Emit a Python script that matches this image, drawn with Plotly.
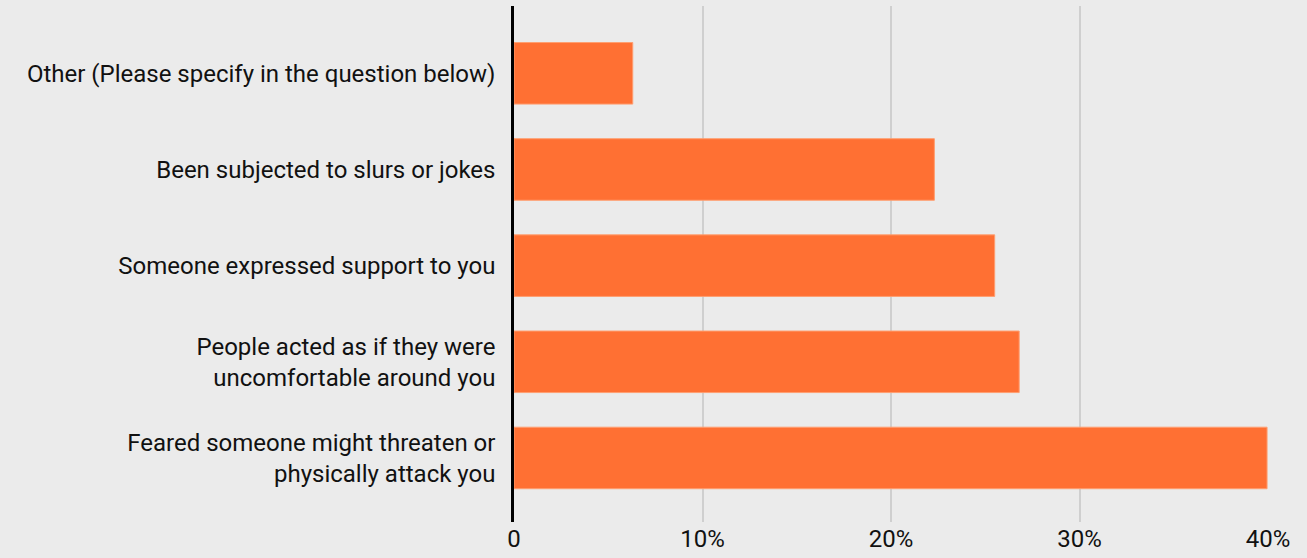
import plotly.graph_objects as go

categories = [
    "Feared someone might threaten or<br>physically attack you",
    "People acted as if they were<br>uncomfortable around you",
    "Someone expressed support to you",
    "Been subjected to slurs or jokes",
    "Other (Please specify in the question below)",
]
values = [0.3995, 0.268, 0.255, 0.223, 0.063]
tick_vals = [0, 0.1, 0.2, 0.3, 0.4]
tick_text = ["0", "10%", "20%", "30%", "40%"]

BG = "#EBEBEB"
BAR = "#FF7033"
FONT = "Roboto"
FS = 24

fig = go.Figure(
    go.Bar(
        x=values,
        y=categories,
        orientation="h",
        marker=dict(color=BAR, line=dict(color="#FF9E70", width=1)),
        width=0.64,
        hoverinfo="x+y",
    )
)

fig.update_layout(
    width=1307,
    height=558,
    paper_bgcolor=BG,
    plot_bgcolor=BG,
    margin=dict(l=514, r=39, t=6, b=36),
    font=dict(family=FONT, size=FS, color="#111111"),
    showlegend=False,
    xaxis=dict(
        range=[0, 0.4],
        tickvals=tick_vals,
        ticktext=tick_text,
        showgrid=True,
        gridcolor="#CFCFCF",
        gridwidth=2,
        zeroline=False,
        showline=False,
        ticks="",
        automargin=False,
        tickfont=dict(family=FONT, size=FS, color="#111111"),
    ),
    yaxis=dict(
        range=[-0.666, 4.70],
        showgrid=False,
        zeroline=False,
        showline=True,
        linecolor="#000000",
        linewidth=2.5,
        ticks="",
        automargin=False,
        ticklabelstandoff=11,
        tickfont=dict(family=FONT, size=FS, color="#111111"),
    ),
)

fig.write_html(
    "out.html",
    config={"displayModeBar": False},
    post_script="document.body.style.margin='0';document.body.style.background='#EBEBEB';",
)
